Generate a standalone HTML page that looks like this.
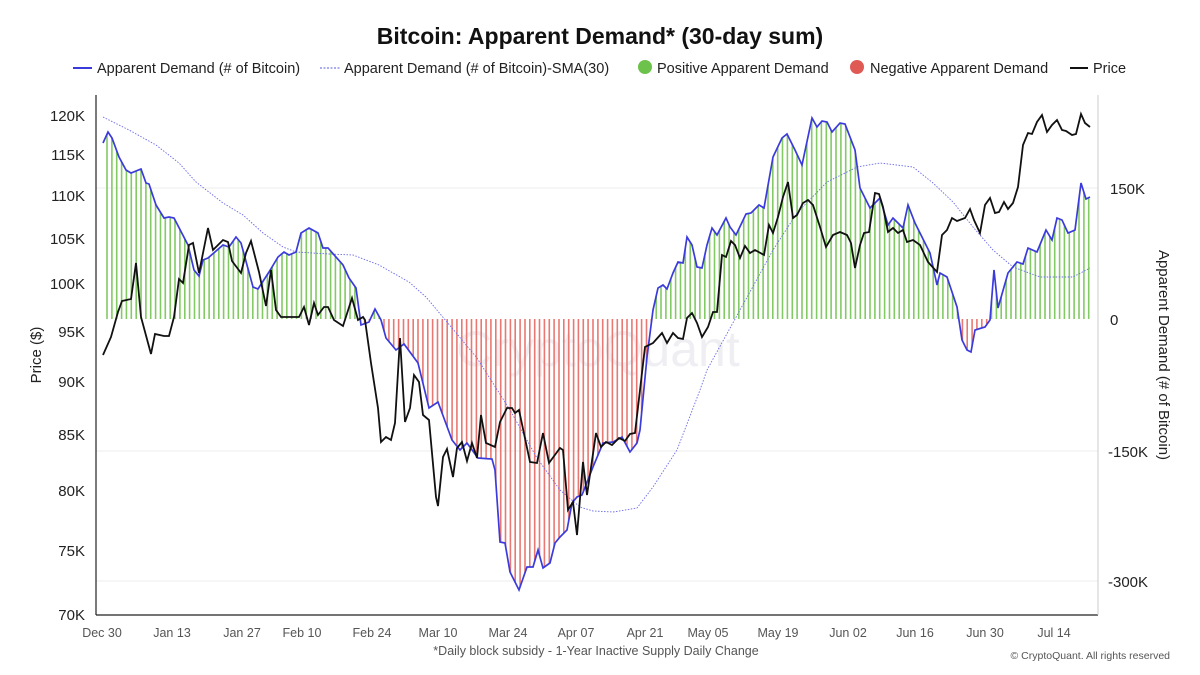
<!DOCTYPE html>
<html><head><meta charset="utf-8"><style>
body{margin:0;background:#fff;}
svg{display:block;font-family:"Liberation Sans",Arial,sans-serif;}
</style></head><body>
<svg id="c" width="1200" height="675" viewBox="0 0 1200 675" xmlns="http://www.w3.org/2000/svg">
<rect width="1200" height="675" fill="#fff"/>
<text x="600" y="44" text-anchor="middle" font-size="23" font-weight="bold" fill="#111">Bitcoin: Apparent Demand* (30-day sum)</text>
<g font-size="14.5" fill="#222">
<line x1="73" y1="68" x2="92" y2="68" stroke="#3b3bdc" stroke-width="2"/><text x="97" y="73">Apparent Demand (# of Bitcoin)</text>
<line x1="320" y1="68" x2="340" y2="68" stroke="#5a5ae0" stroke-width="1" stroke-dasharray="2,1.5"/><text x="344" y="73">Apparent Demand (# of Bitcoin)-SMA(30)</text>
<circle cx="645" cy="67" r="7" fill="#6cc24a"/><text x="657" y="73">Positive Apparent Demand</text>
<circle cx="857" cy="67" r="7" fill="#e05a55"/><text x="870" y="73">Negative Apparent Demand</text>
<line x1="1070" y1="68" x2="1088" y2="68" stroke="#111" stroke-width="2"/><text x="1093" y="73">Price</text>
</g>
<g stroke="#ececec" stroke-width="1">
<line x1="96" y1="188" x2="1098" y2="188"/><line x1="96" y1="451" x2="1098" y2="451"/><line x1="96" y1="581" x2="1098" y2="581"/>
</g>
<text x="598" y="366" text-anchor="middle" font-size="50" fill="#efeff3">CryptoQuant</text>
<g id="bars"></g>
<g id="lines"></g>
<g stroke="#222" stroke-width="1.2">
<line x1="96" y1="95" x2="96" y2="615"/><line x1="96" y1="615" x2="1098" y2="615"/>
</g>
<line x1="1098" y1="95" x2="1098" y2="615" stroke="#ccc" stroke-width="1"/>
<g font-size="15" fill="#222" text-anchor="end">
<text x="85" y="121">120K</text><text x="85" y="160">115K</text><text x="85" y="201">110K</text><text x="85" y="244">105K</text><text x="85" y="289">100K</text><text x="85" y="337">95K</text><text x="85" y="387">90K</text><text x="85" y="440">85K</text><text x="85" y="496">80K</text><text x="85" y="556">75K</text><text x="85" y="620">70K</text>
</g>
<g font-size="15" fill="#222">
<text x="1110" y="194">150K</text><text x="1110" y="325">0</text><text x="1108" y="457">-150K</text><text x="1108" y="587">-300K</text>
</g>
<text transform="translate(41,355) rotate(-90)" text-anchor="middle" font-size="15" fill="#222">Price ($)</text>
<text transform="translate(1159,355) rotate(90)" text-anchor="middle" font-size="15" fill="#222">Apparent Demand (# of Bitcoin)</text>
<g font-size="12.5" fill="#555" text-anchor="middle">
<text x="102" y="637">Dec 30</text><text x="172" y="637">Jan 13</text><text x="242" y="637">Jan 27</text><text x="302" y="637">Feb 10</text><text x="372" y="637">Feb 24</text><text x="438" y="637">Mar 10</text><text x="508" y="637">Mar 24</text><text x="576" y="637">Apr 07</text><text x="645" y="637">Apr 21</text><text x="708" y="637">May 05</text><text x="778" y="637">May 19</text><text x="848" y="637">Jun 02</text><text x="915" y="637">Jun 16</text><text x="985" y="637">Jun 30</text><text x="1054" y="637">Jul 14</text>
</g>
<text x="596" y="655" text-anchor="middle" font-size="12.5" fill="#555">*Daily block subsidy - 1-Year Inactive Supply Daily Change</text>
<text x="1170" y="659" text-anchor="end" font-size="10.5" fill="#555">© CryptoQuant. All rights reserved</text>
</svg>
<script>
var D=[[103,143],[108,132],[112,138],[119,157],[126,170],[131,173],[141,169],[146,183],[149,184],[156,205],[164,218],[169,217],[174,218],[188,245],[194,270],[199,276],[203,260],[208,258],[223,245],[229,247],[236,237],[241,243],[253,287],[258,289],[269,272],[278,257],[284,252],[289,255],[296,252],[301,233],[309,228],[318,233],[323,248],[328,248],[343,265],[349,278],[356,288],[361,325],[369,322],[375,309],[381,320],[386,338],[396,350],[404,344],[418,363],[429,408],[438,402],[452,440],[460,450],[467,443],[478,458],[492,459],[495,470],[500,542],[505,543],[510,572],[519,590],[527,567],[533,567],[538,550],[543,568],[550,563],[555,543],[560,537],[567,530],[572,503],[577,497],[582,495],[593,467],[603,443],[613,442],[622,437],[630,452],[637,443],[640,430],[647,357],[653,310],[658,288],[663,285],[667,289],[673,273],[678,262],[683,263],[687,237],[692,245],[697,267],[702,268],[707,245],[712,228],[717,235],[726,218],[730,227],[736,235],[746,214],[751,213],[759,205],[764,208],[773,157],[782,138],[787,134],[795,150],[802,165],[812,118],[817,127],[822,121],[827,122],[832,132],[840,123],[845,124],[855,150],[860,188],[870,208],[880,198],[888,225],[893,218],[903,228],[908,205],[915,223],[930,253],[937,285],[940,273],[947,277],[957,307],[962,340],[967,350],[971,352],[975,330],[985,327],[990,320],[994,270],[998,308],[1008,273],[1017,262],[1023,264],[1028,248],[1037,252],[1046,230],[1052,240],[1057,218],[1062,220],[1068,233],[1075,230],[1081,183],[1086,199],[1090,197]];
var P=[[103,355],[111,337],[118,312],[122,301],[131,299],[136,263],[141,317],[151,354],[155,334],[164,336],[169,336],[174,317],[179,279],[183,283],[189,245],[193,243],[199,273],[208,228],[213,250],[223,240],[228,242],[232,261],[241,273],[246,253],[251,241],[259,272],[266,306],[271,270],[276,310],[281,317],[299,317],[304,307],[309,325],[314,303],[318,315],[324,307],[328,307],[334,320],[343,326],[352,298],[358,320],[363,317],[365,320],[371,363],[378,408],[381,442],[386,437],[391,440],[395,423],[400,338],[405,422],[410,408],[414,375],[419,382],[423,415],[429,420],[436,497],[438,506],[443,457],[447,449],[453,477],[457,448],[462,442],[467,461],[472,443],[477,458],[481,415],[486,443],[495,447],[500,422],[507,408],[512,408],[515,413],[519,410],[530,462],[537,463],[543,433],[549,463],[560,448],[563,450],[568,510],[573,502],[577,535],[583,462],[587,495],[596,433],[601,447],[606,442],[612,445],[619,438],[625,441],[630,434],[635,433],[645,347],[653,343],[662,333],[667,343],[673,333],[678,338],[683,339],[687,318],[692,313],[697,323],[702,337],[708,327],[713,312],[717,312],[722,255],[726,257],[731,241],[735,245],[740,258],[745,246],[750,253],[755,250],[764,255],[769,225],[773,233],[778,217],[783,197],[788,182],[793,218],[797,215],[803,203],[808,200],[813,205],[820,227],[826,247],[833,235],[840,232],[847,235],[851,243],[855,268],[860,245],[864,233],[869,232],[875,193],[879,194],[883,207],[888,232],[893,228],[898,233],[903,230],[907,242],[913,240],[920,245],[928,262],[937,272],[942,235],[947,230],[952,218],[957,221],[965,218],[970,209],[974,220],[980,233],[985,205],[990,198],[995,213],[999,212],[1004,202],[1008,209],[1013,203],[1018,187],[1023,145],[1028,133],[1032,134],[1037,122],[1042,115],[1047,132],[1052,125],[1057,120],[1062,130],[1066,131],[1072,135],[1076,134],[1081,114],[1085,123],[1090,127]];
var S=[[103,117],[129,130],[156,145],[179,163],[196,182],[223,203],[243,215],[263,233],[283,247],[296,252],[329,254],[353,255],[379,265],[409,282],[426,297],[447,322],[477,358],[510,410],[537,458],[560,490],[580,507],[593,511],[613,512],[637,508],[653,487],[677,450],[700,390],[707,370],[740,310],[773,250],[797,213],[827,182],[857,167],[880,163],[913,167],[933,183],[953,202],[973,227],[993,250],[1013,267],[1040,277],[1073,277],[1090,268]];
function interp(a,x){for(var i=0;i<a.length-1;i++){if(x>=a[i][0]&&x<=a[i+1][0]){var t=(x-a[i][0])/(a[i+1][0]-a[i][0]);return a[i][1]+t*(a[i+1][1]-a[i][1]);}}return a[a.length-1][1];}
var b=document.getElementById("bars"),h="";
for(var x=107;x<=1090;x+=4.86){var y=interp(D,x);var c=y<319?"#82ca64":"#ea7872";h+='<line x1="'+x.toFixed(1)+'" y1="319" x2="'+x.toFixed(1)+'" y2="'+y.toFixed(1)+'" stroke="'+c+'" stroke-width="1.6"/>';}
b.innerHTML=h;
function pl(a){return a.map(function(p){return p[0]+","+p[1]}).join(" ");}
document.getElementById("lines").innerHTML='<polyline points="'+pl(S)+'" fill="none" stroke="#6a6ae6" stroke-width="0.9" stroke-dasharray="1.5,1.5"/>'+
'<polyline points="'+pl(D)+'" fill="none" stroke="#3b3bdc" stroke-width="1.7"/>'+
'<polyline points="'+pl(P)+'" fill="none" stroke="#111" stroke-width="1.8"/>';
</script>
</body></html>
